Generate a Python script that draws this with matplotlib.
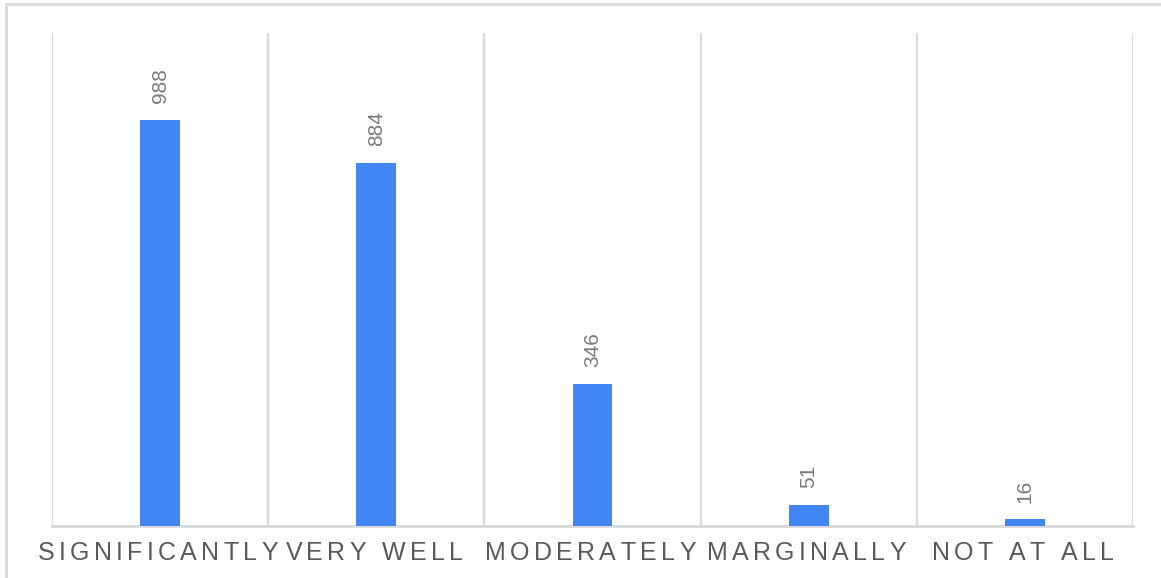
import matplotlib
matplotlib.use("Agg")
import matplotlib.pyplot as plt
from matplotlib.font_manager import FontProperties
from matplotlib.lines import Line2D

categories = ["SIGNIFICANTLY", "VERY WELL", "MODERATELY", "MARGINALLY", "NOT AT ALL"]
counts = [988, 884, 346, 51, 16]

W, H = 1161, 578
fig = plt.figure(figsize=(W / 100, H / 100), dpi=100)
ax = fig.add_axes([52 / W, 52 / H, (1133 - 52) / W, (526 - 33) / H])

grid_col = "#d9d9d9"
x = list(range(len(categories)))
ax.bar(x, counts, width=0.185, color="#4285F4", zorder=3)

# gridlines at category boundaries
for b in range(len(categories) + 1):
    ax.axvline(b - 0.5, color=grid_col, lw=1.6, zorder=1)

ax.set_xlim(-0.5, len(categories) - 0.5)
ax.set_ylim(0, 1200)
ax.set_xticks([])
ax.set_yticks([])
for s in ["top", "right", "left"]:
    ax.spines[s].set_visible(False)
ax.spines["bottom"].set_color(grid_col)
ax.spines["bottom"].set_linewidth(2)

# value labels
for xi, v in zip(x, counts):
    ax.annotate(str(v), (xi, v), xytext=(0, 12), textcoords="offset points",
                rotation=90, ha="center", va="bottom", fontsize=15,
                color="#7a7a7a", family="Liberation Sans")

# figure border (only left and top are visible in the reference)
fig.add_artist(Line2D([6 / W, 6 / W], [0, 1 - 4 / H], transform=fig.transFigure,
                      color=grid_col, lw=2))
fig.add_artist(Line2D([6 / W, 1], [1 - 4 / H, 1 - 4 / H], transform=fig.transFigure,
                      color=grid_col, lw=2))

# letter-spaced category labels (spacing also after the last letter, like css)
fig.canvas.draw()
renderer = fig.canvas.get_renderer()
prop = FontProperties(family="Liberation Sans", size=18)
gap = 4.3
base = renderer.get_text_width_height_descent("XX", prop, ismath=False)[0]


def char_width(c):
    w = renderer.get_text_width_height_descent("X" + c + "X", prop, ismath=False)[0]
    return w - base


label_y = 553
for xi, lab in zip(x, categories):
    cx = ax.transData.transform((xi, 0))[0]
    widths = [char_width(c) for c in lab]
    total = sum(widths) + gap * len(lab)
    px = cx - total / 2
    for c, w in zip(lab, widths):
        if c != " ":
            fig.text(px / W, 1 - label_y / H, c, fontproperties=prop,
                     color="#5a5a5a", ha="left", va="center")
        px += w + gap

fig.savefig("out.png", dpi=100)
